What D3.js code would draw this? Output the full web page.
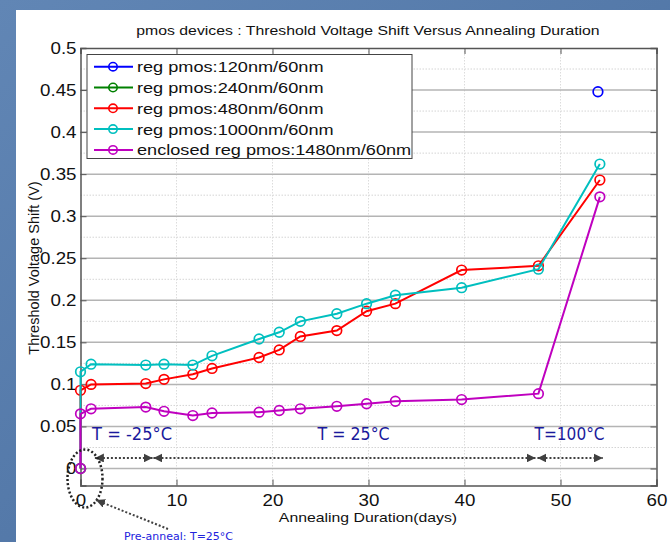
<!DOCTYPE html>
<html><head><meta charset="utf-8">
<script src="https://cdn.jsdelivr.net/npm/d3@7"></script>
<style>html,body{margin:0;padding:0;overflow:hidden;background:#4f72a2;}</style>
</head><body>
<svg id="chart" width="670" height="542"></svg>
<script>
// ---- data ----
const days = [0, 0, 1.1, 6.8, 8.7, 11.7, 13.7, 18.6, 20.7, 22.9, 26.7, 29.8, 32.8, 39.7, 47.7, 54.1];
const red480 = [0, 0.093, 0.100, 0.101, 0.106, 0.112, 0.119, 0.132, 0.141, 0.157, 0.164, 0.187, 0.196, 0.236, 0.241, 0.343];
const cyan1000 = [0, 0.115, 0.124, 0.123, 0.124, 0.123, 0.134, 0.154, 0.162, 0.175, 0.184, 0.196, 0.206, 0.215, 0.237, 0.362];
const mag1480 = [0, 0.065, 0.071, 0.073, 0.068, 0.063, 0.066, 0.067, 0.069, 0.071, 0.074, 0.077, 0.080, 0.082, 0.089, 0.323];
const blueDays = [53.9];
const blue120 = [0.448];
const greenDays = [];
const green240 = [];
const seriesNames = ["reg pmos:120nm/60nm", "reg pmos:240nm/60nm", "reg pmos:480nm/60nm", "reg pmos:1000nm/60nm", "enclosed reg pmos:1480nm/60nm"];
const seriesColors = ["#0000ff", "#008000", "#ff0000", "#00bfbf", "#bf00bf"];
const xTicks = [0, 10, 20, 30, 40, 50, 60];
const xTickLabels = ["0", "10", "20", "30", "40", "50", "60"];
const yTicks = [0, 0.05, 0.1, 0.15, 0.2, 0.25, 0.3, 0.35, 0.4, 0.45, 0.5];
const yTickLabels = ["0", "0.05", "0.1", "0.15", "0.2", "0.25", "0.3", "0.35", "0.4", "0.45", "0.5"];
const tempLabels = ["T = -25°C", "T = 25°C", "T=100°C"];
const tempLabelDays = [1.2, 24.7, 47.3];
const periodStart = [1.5, 7.6, 47.6];
const periodEnd = [7.5, 47.4, 54.4];

// ---- layout ----
const svg = d3.select("#chart");
const L = 80.5, R = 656.5, T = 48, B = 485.5;
const x = d3.scaleLinear().domain([0, 60]).range([L, R]);
const y = d3.scaleLinear().domain([-0.0202, 0.5]).range([B, T]);
const SX = 1.17; // horizontal stretch of text in the reference

const defs = svg.append("defs");
const bg = defs.append("linearGradient").attr("id", "bg").attr("x1", 0).attr("y1", 0).attr("x2", 1).attr("y2", 1);
bg.append("stop").attr("offset", 0).attr("stop-color", "#6186b5");
bg.append("stop").attr("offset", 0.5).attr("stop-color", "#5479a9");
bg.append("stop").attr("offset", 1).attr("stop-color", "#3f6191");
svg.append("rect").attr("width", 670).attr("height", 542).attr("fill", "url(#bg)");
svg.append("rect").attr("x", 16).attr("y", 10).attr("width", 654).attr("height", 532).attr("fill", "#ffffff");

function stretchText(sel) {
  sel.each(function () {
    const w = this.getComputedTextLength();
    d3.select(this).attr("textLength", w * SX).attr("lengthAdjust", "spacingAndGlyphs");
  });
  return sel;
}
const FONT = "'Liberation Sans', Arial, sans-serif";

// grid
const g = svg.append("g");
const minorY = d3.range(-0.0, 0.5, 0.025).filter((v, i) => i % 2 === 1);
g.selectAll(".ym").data(minorY).enter().append("line")
  .attr("x1", L).attr("x2", R).attr("y1", d => y(d)).attr("y2", d => y(d))
  .attr("stroke", "#d4d4d4").attr("stroke-width", 1).attr("stroke-dasharray", "1.5,1.5");
g.selectAll(".xg").data(xTicks.slice(1, -1)).enter().append("line")
  .attr("x1", d => x(d)).attr("x2", d => x(d)).attr("y1", T).attr("y2", B)
  .attr("stroke", "#dcdcdc").attr("stroke-width", 1).attr("stroke-dasharray", "1.5,1.5");
g.selectAll(".yg").data(yTicks.slice(0, -1)).enter().append("line")
  .attr("x1", L).attr("x2", R).attr("y1", d => y(d)).attr("y2", d => y(d))
  .attr("stroke", "#b4b4b4").attr("stroke-width", 1.5);

// axes via d3 axes
const axB = svg.append("g").attr("transform", `translate(0,${B})`)
  .call(d3.axisBottom(x).tickValues(xTicks).tickSize(-6).tickPadding(9).tickFormat((d, i) => xTickLabels[i]));
const axT = svg.append("g").attr("transform", `translate(0,${T})`)
  .call(d3.axisTop(x).tickValues(xTicks).tickSize(-6).tickFormat(""));
const axL = svg.append("g").attr("transform", `translate(${L},0)`)
  .call(d3.axisLeft(y).tickValues(yTicks).tickSize(-6).tickPadding(4).tickFormat((d, i) => yTickLabels[i]));
const axR = svg.append("g").attr("transform", `translate(${R},0)`)
  .call(d3.axisRight(y).tickValues(yTicks).tickSize(-6).tickFormat(""));
[axB, axT, axL, axR].forEach(a => {
  a.select(".domain").attr("stroke", "#555").attr("stroke-width", 1.5);
  a.selectAll(".tick line").attr("stroke", "#555").attr("stroke-width", 1);
  a.selectAll("text").attr("font-family", FONT).attr("font-size", 16).attr("fill", "#111");
});
axB.selectAll("text").attr("dy", "0.71em");
stretchText(axB.selectAll("text"));
stretchText(axL.selectAll("text"));

// series
const lineGen = d3.line().x(d => x(d[0])).y(d => y(d[1]));
const allSeries = [
  { xs: blueDays, ys: blue120, c: seriesColors[0] },
  { xs: greenDays, ys: green240, c: seriesColors[1] },
  { xs: days, ys: red480, c: seriesColors[2] },
  { xs: days, ys: cyan1000, c: seriesColors[3] },
  { xs: days, ys: mag1480, c: seriesColors[4] }
];
const plot = svg.append("g");
allSeries.forEach(s => {
  const pts = s.xs.map((v, i) => [v, s.ys[i]]);
  if (pts.length > 1) plot.append("path").datum(pts).attr("d", lineGen)
    .attr("fill", "none").attr("stroke", s.c).attr("stroke-width", 2);
  plot.selectAll(null).data(pts).enter().append("circle")
    .attr("cx", d => x(d[0])).attr("cy", d => y(d[1])).attr("r", 4.8)
    .attr("fill", "none").attr("stroke", s.c).attr("stroke-width", 1.7);
});

// legend
const lg = svg.append("g");
lg.append("rect").attr("x", 87).attr("y", 54.5).attr("width", 325).attr("height", 104)
  .attr("fill", "#fff").attr("stroke", "#444").attr("stroke-width", 1);
seriesNames.forEach((n, i) => {
  const yy = 66.7 + i * 20.8;
  lg.append("line").attr("x1", 94).attr("x2", 133).attr("y1", yy).attr("y2", yy)
    .attr("stroke", seriesColors[i]).attr("stroke-width", 2);
  lg.append("circle").attr("cx", 113).attr("cy", yy).attr("r", 4.2)
    .attr("fill", "none").attr("stroke", seriesColors[i]).attr("stroke-width", 1.6);
  stretchText(lg.append("text").attr("x", 137).attr("y", yy + 5.5)
    .attr("font-family", FONT).attr("font-size", 15.5).attr("fill", "#111").text(n));
});

// titles
stretchText(svg.append("text").attr("x", 368).attr("y", 35).attr("text-anchor", "middle")
  .attr("font-family", FONT).attr("font-size", 13.5).attr("fill", "#111")
  .text("pmos devices : Threshold Voltage Shift Versus Annealing Duration"));
stretchText(svg.append("text").attr("x", 368).attr("y", 522).attr("text-anchor", "middle")
  .attr("font-family", FONT).attr("font-size", 13.5).attr("fill", "#111")
  .text("Annealing Duration(days)"));
svg.append("text").attr("transform", "translate(39,268) rotate(-90)").attr("text-anchor", "middle")
  .attr("font-family", FONT).attr("font-size", 14.5).attr("fill", "#111")
  .text("Threshold Voltage Shift (V)");

// annotations
const ann = svg.append("g");
const TFONT = "'DejaVu Sans', sans-serif";
tempLabels.forEach((t, i) => {
  ann.append("text").attr("x", x(tempLabelDays[i])).attr("y", 440)
    .attr("font-family", TFONT).attr("font-size", 17).attr("fill", "#1a1a9c")
    .attr("textLength", i === 0 ? 80 : (i === 1 ? 72 : 70)).attr("lengthAdjust", "spacingAndGlyphs")
    .text(t);
});
defs.append("marker").attr("id", "ah").attr("viewBox", "0 0 10 10").attr("refX", 10).attr("refY", 5)
  .attr("markerWidth", 9).attr("markerHeight", 9).attr("markerUnits", "userSpaceOnUse")
  .attr("orient", "auto-start-reverse")
  .append("path").attr("d", "M0,0 L10,5 L0,10 Z").attr("fill", "#404040");
const arrowY = y(0.0125);
periodStart.forEach((s, i) => {
  ann.append("line").attr("x1", x(s)).attr("x2", x(periodEnd[i])).attr("y1", arrowY).attr("y2", arrowY)
    .attr("stroke", "#404040").attr("stroke-width", 2.2).attr("stroke-dasharray", "2,2")
    .attr("marker-start", "url(#ah)").attr("marker-end", "url(#ah)");
});
ann.append("ellipse").attr("cx", x(0) + 4.5).attr("cy", y(0) + 10).attr("rx", 17.5).attr("ry", 29)
  .attr("fill", "none").attr("stroke", "#222").attr("stroke-width", 2.5).attr("stroke-dasharray", "2,2.2");
ann.append("line").attr("x1", 168).attr("y1", 529).attr("x2", 96).attr("y2", 500)
  .attr("stroke", "#404040").attr("stroke-width", 2).attr("stroke-dasharray", "2,2")
  .attr("marker-end", "url(#ah)");
ann.append("text").attr("x", 124).attr("y", 540)
  .attr("font-family", TFONT).attr("font-size", 11).attr("fill", "#2222dd")
  .text("Pre-anneal: T=25°C");
</script>
</body></html>
